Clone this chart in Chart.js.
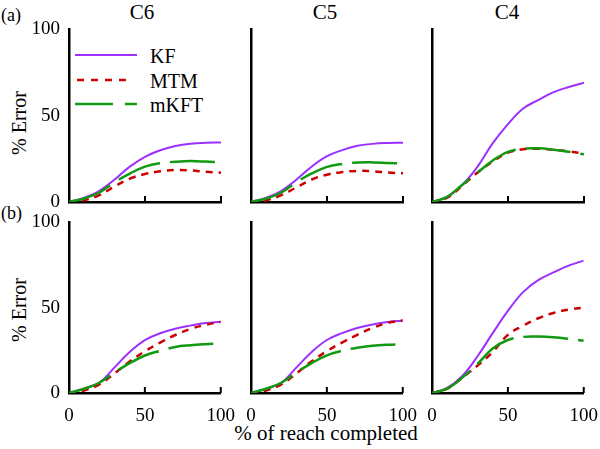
<!DOCTYPE html>
<html>
<head>
<meta charset="utf-8">
<script src="https://cdn.jsdelivr.net/npm/chart.js@4"></script>
<style>
  body { margin: 0; background: #fff; }
  #wrap { position: relative; width: 600px; height: 449px; font-family: "Liberation Serif", Tinos, "Times New Roman", Times, "DejaVu Serif", "Noto Serif", serif; color: #000; }
  canvas { position: absolute; }
  .lbl { position: absolute; font-size: 20px; white-space: nowrap; line-height: 1; }
  .title { position: absolute; font-size: 21px; line-height: 1; transform: translateX(-50%); }
</style>
</head>
<body>
<div id="wrap">
  <div class="lbl" style="left:1px;top:6px;font-size:18px">(a)</div>
  <div class="lbl" style="left:1px;top:204px;font-size:18px">(b)</div>
  <div class="title" style="left:142px;top:2px">C6</div>
  <div class="title" style="left:325px;top:2px">C5</div>
  <div class="title" style="left:507px;top:2px">C4</div>
  <div class="lbl" style="left:19px;top:123px;transform:translate(-50%,-50%) rotate(-90deg)">% Error</div>
  <div class="lbl" style="left:19px;top:310px;transform:translate(-50%,-50%) rotate(-90deg)">% Error</div>
  <div class="lbl" style="left:326px;top:423px;font-size:21px;transform:translateX(-50%)">% of reach completed</div>
  <svg style="position:absolute;left:0;top:0" width="600" height="449">
    <line x1="75" y1="55" x2="137" y2="55" stroke="#9b30ff" stroke-width="2"/>
    <line x1="77" y1="80" x2="130" y2="80" stroke="#cc0000" stroke-width="2.5" stroke-dasharray="7,7"/>
    <line x1="75" y1="104" x2="137" y2="104" stroke="#119911" stroke-width="2.5" stroke-dasharray="38,12"/>
  </svg>
  <div class="lbl" style="left:150px;top:46px">KF</div>
  <div class="lbl" style="left:150px;top:71px">MTM</div>
  <div class="lbl" style="left:150px;top:95px">mKFT</div>
</div>
<script>
const xs = [0, 10, 20, 30, 40, 50, 60, 70, 80, 90, 100];
const xTicks = [0, 50, 100];
const yTicks = [0, 50, 100];
const seriesNames = ['KF', 'MTM', 'mKFT'];

// row (a)
const a_C6_KF   = [0, 2.5, 6.5, 13, 20.5, 26.2, 30, 32.5, 33.8, 34.3, 34.5];
const a_C6_MTM  = [0, 1, 4, 9, 13.5, 16.2, 17.8, 18.5, 18.3, 17.5, 17];
const a_C6_mKFT = [0, 2, 5.5, 11.5, 16.5, 20.5, 22.5, 23.3, 23.7, 23.4, 23];
const a_C5_KF   = [0, 2.5, 6.5, 13, 20.5, 26.5, 30, 32.5, 33.6, 34.1, 34.3];
const a_C5_MTM  = [0, 1, 4, 8.5, 13, 15.8, 17.3, 18, 17.8, 17, 16.6];
const a_C5_mKFT = [0, 2, 5.5, 11.5, 16.5, 20.3, 22, 22.8, 22.9, 22.6, 22.3];
const a_C4_KF   = [0, 3, 10, 20.5, 34, 45, 54, 59, 63.5, 66.5, 69];
const a_C4_MTM  = [0, 2.5, 9.5, 17, 23.5, 28.5, 30.5, 30.8, 30.2, 29.2, 28];
const a_C4_mKFT = [0, 3, 10, 17, 24, 29, 30.8, 31, 30.2, 29, 27.6];
// row (b)
const b_C6_KF   = [0, 2.5, 6, 15, 24, 31, 35, 37.7, 39.5, 41, 41.7];
const b_C6_MTM  = [0, 1.5, 5, 11.5, 18.5, 24.5, 29.5, 34, 37.5, 40, 41.7];
const b_C6_mKFT = [0, 2.5, 6, 12, 17.5, 22, 24.7, 27, 28, 28.6, 29];
const b_C5_KF   = [0, 2.5, 6, 15, 24, 31, 35, 38, 40, 41.5, 42.3];
const b_C5_MTM  = [0, 1.5, 5, 11.5, 18.5, 24.5, 29.5, 34, 38, 41, 42.5];
const b_C5_mKFT = [0, 2.5, 6, 12, 17.5, 22, 24.7, 26.5, 27.6, 28.2, 28.5];
const b_C4_KF   = [0, 3, 10, 21.5, 35, 48, 59, 66, 70.5, 74.5, 77.4];
const b_C4_MTM  = [0, 2.5, 9, 16, 24, 34, 39.3, 43.7, 46.8, 48.7, 50];
const b_C4_mKFT = [0, 2.5, 9, 17, 26, 31, 32.8, 33, 32.6, 31.7, 30.5];

const panels = [
  [[a_C6_KF, a_C6_MTM, a_C6_mKFT], [a_C5_KF, a_C5_MTM, a_C5_mKFT], [a_C4_KF, a_C4_MTM, a_C4_mKFT]],
  [[b_C6_KF, b_C6_MTM, b_C6_mKFT], [b_C5_KF, b_C5_MTM, b_C5_mKFT], [b_C4_KF, b_C4_MTM, b_C4_mKFT]]
];

const styles = [
  { color: '#9b30ff', width: 2, dash: [] },
  { color: '#cc0000', width: 2.5, dash: [7, 6] },
  { color: '#119911', width: 2.5, dash: [45, 10] }
];

const fontFam = '"Liberation Serif", Tinos, "Times New Roman", Times, "DejaVu Serif", "Noto Serif", serif';
const axisX = [69, 251, 432];
const plotW = 152;
const rowTop = [29, 222];
const plotH = [173, 171];
const yAxisW = 50, padTop = 12, padRight = 18;

// inward tick marks on the x axis, as the original plot has
const innerTicks = {
  id: 'innerTicks',
  afterDraw(chart) {
    const { ctx, scales: { x, y } } = chart;
    ctx.save();
    ctx.strokeStyle = '#000';
    ctx.lineWidth = 2;
    xTicks.slice(1).forEach(v => {
      const px = x.getPixelForValue(v);
      ctx.beginPath();
      ctx.moveTo(px, y.bottom);
      ctx.lineTo(px, y.bottom - 6);
      ctx.stroke();
    });
    ctx.restore();
  }
};

const wrap = document.getElementById('wrap');
for (let r = 0; r < 2; r++) {
  for (let c = 0; c < 3; c++) {
    const xAxisH = r === 1 ? 30 : 14;
    const cv = document.createElement('canvas');
    const w = yAxisW + plotW + padRight;
    const h = padTop + plotH[r] + xAxisH;
    cv.width = w; cv.height = h;
    cv.style.width = w + 'px'; cv.style.height = h + 'px';
    cv.style.left = (axisX[c] - yAxisW) + 'px';
    cv.style.top = (rowTop[r] - padTop) + 'px';
    wrap.appendChild(cv);

    const datasets = panels[r][c].map((vals, i) => ({
      label: seriesNames[i],
      data: xs.map((x, k) => ({ x, y: vals[k] })),
      borderColor: styles[i].color,
      borderWidth: styles[i].width,
      borderDash: styles[i].dash,
      tension: 0.4,
      pointRadius: 0,
      fill: false
    })).reverse();

    new Chart(cv, {
      type: 'line',
      data: { datasets },
      options: {
        responsive: false,
        animation: false,
        layout: { padding: { top: padTop, right: padRight, left: 0, bottom: 0 } },
        plugins: { legend: { display: false }, tooltip: { enabled: false } },
        scales: {
          x: {
            type: 'linear', min: 0, max: 100,
            afterBuildTicks: s => { s.ticks = xTicks.map(v => ({ value: v })); },
            afterFit: s => { s.height = xAxisH; },
            grid: { display: false },
            border: { display: true, color: '#000', width: 2.5 },
            ticks: {
              display: r === 1, maxRotation: 0, padding: 4, color: '#000',
              font: { family: fontFam, size: 19 }
            }
          },
          y: {
            min: 0, max: 100,
            afterBuildTicks: s => { s.ticks = yTicks.map(v => ({ value: v })); },
            afterFit: s => { s.width = yAxisW; },
            grid: { display: false },
            border: { display: true, color: '#000', width: 2.5 },
            ticks: {
              display: c === 0, padding: 1, color: '#000',
              font: { family: fontFam, size: 19 }
            }
          }
        }
      },
      plugins: [innerTicks]
    });
  }
}
</script>
</body>
</html>
